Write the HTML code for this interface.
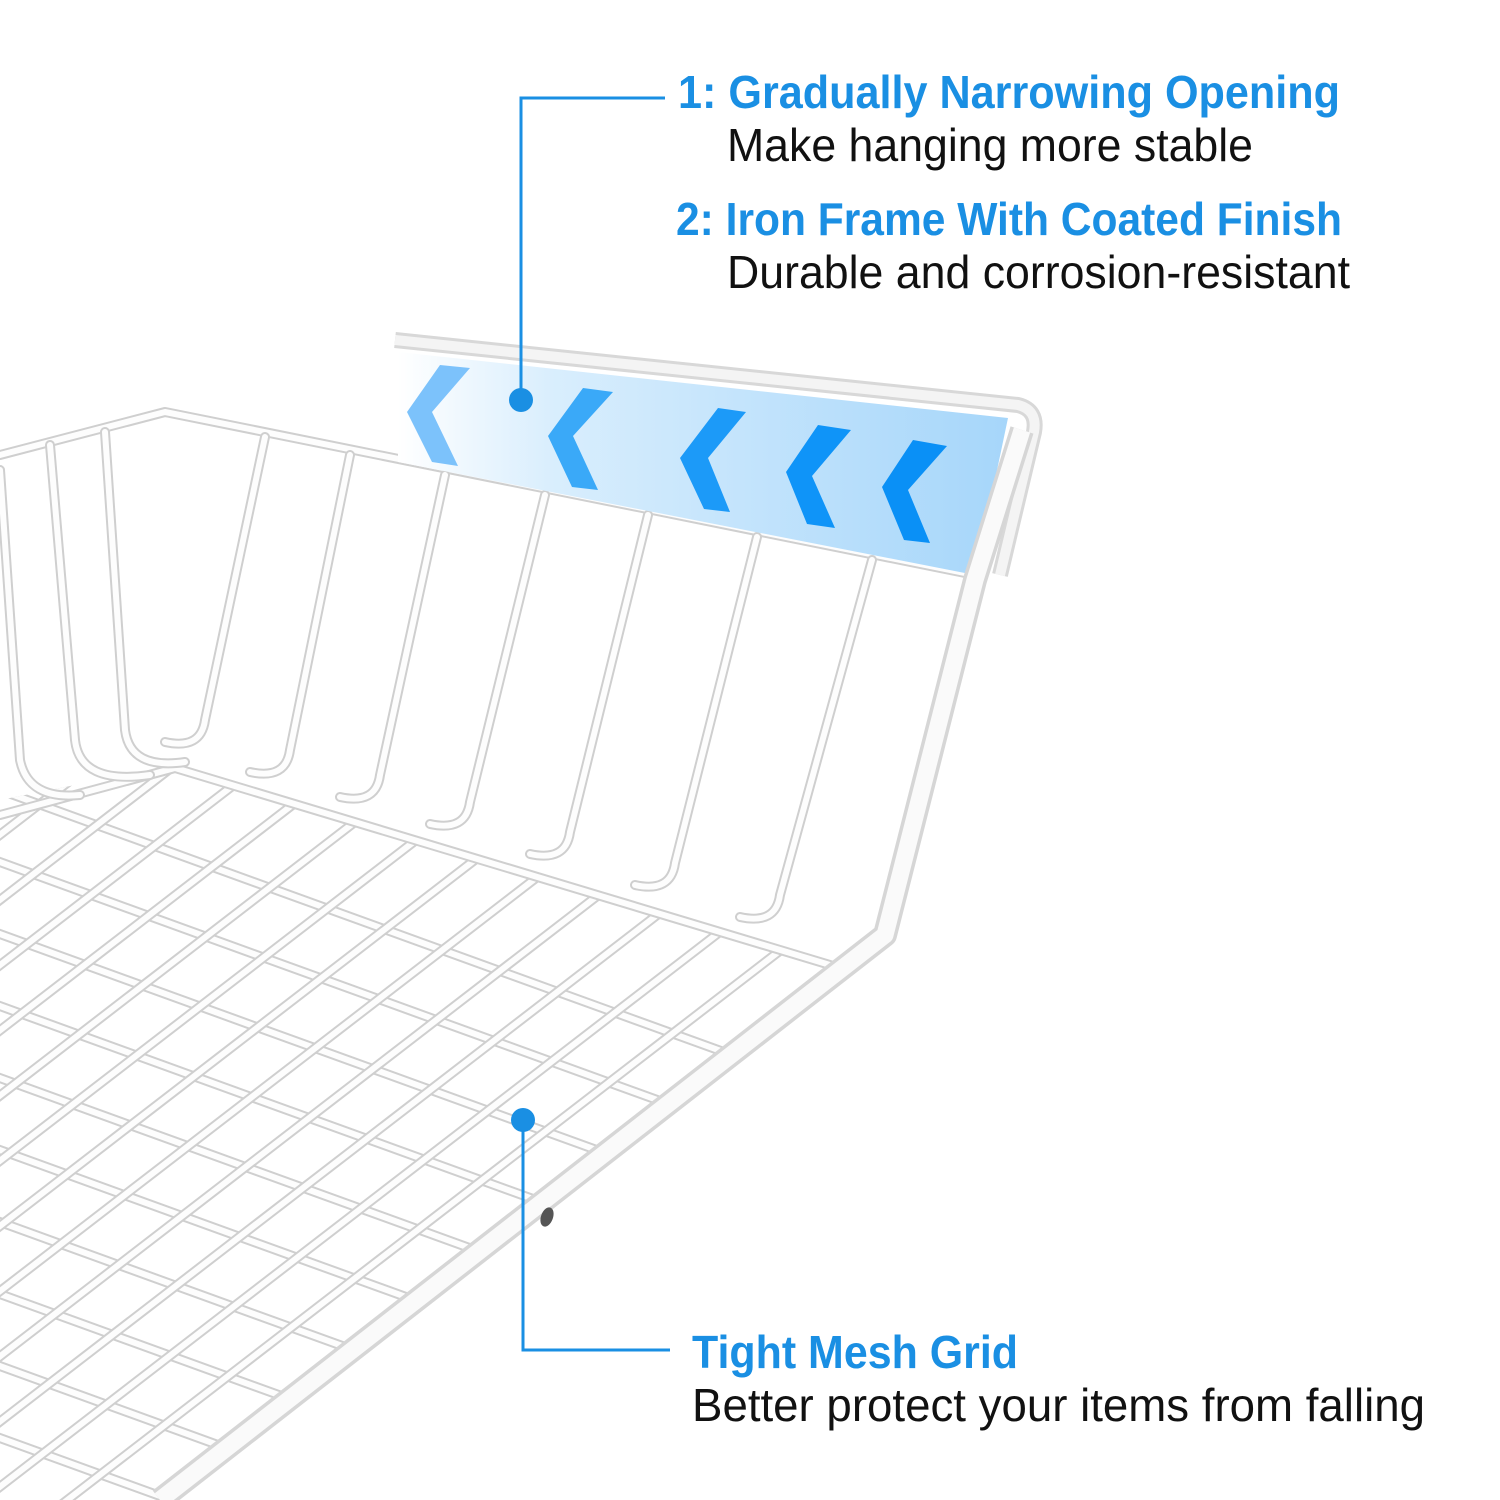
<!DOCTYPE html>
<html><head><meta charset="utf-8"><style>
html,body{margin:0;padding:0;background:#fff;width:1500px;height:1500px;overflow:hidden;}
svg{display:block;}
.t{font-family:"Liberation Sans",sans-serif;font-weight:bold;fill:#1a8fe3;font-size:46px;}
.s{font-family:"Liberation Sans",sans-serif;fill:#111;font-size:46px;}
</style></head><body>
<svg id="sv" width="1500" height="1500" viewBox="0 0 1500 1500" xmlns="http://www.w3.org/2000/svg">
<defs>
<linearGradient id="bg" x1="0" y1="0" x2="1" y2="0">
<stop offset="0" stop-color="#ffffff"/><stop offset="0.25" stop-color="#d9eefd"/><stop offset="1" stop-color="#a6d6fa"/>
</linearGradient>
<clipPath id="floor"><polygon points="0,800 175,765 840,965 880,950 170,1500 0,1500"/></clipPath>
</defs>
<g id="wires" fill="none" stroke-linecap="round" stroke-linejoin="round"></g>
<polygon points="398,352 1008,418 975,575 398,462" fill="url(#bg)"/>
<g>
<polygon points="440,365 470,368 432,412 458,466 432,462 407,412" fill="#7cc2fb"/>
<polygon points="583,388 613,392 573,436 598,490 572,487 548,436" fill="#3aa9f8"/>
<polygon points="718,408 746,412 708,458 730,512 704,509 680,458" fill="#1c9af8"/>
<polygon points="818,425 851,430 812,476 835,528 807,524 786,472" fill="#0f94f8"/>
<polygon points="913,440 947,446 908,490 930,543 904,540 882,487" fill="#0a90f6"/>
</g>
<path d="M395,340 L1018,405 Q1038,410 1034,432 L1000,575" fill="none" stroke="#d8d8d8" stroke-width="16" stroke-linejoin="round"/>
<path d="M395,340 L1018,405 Q1038,410 1034,432 L1000,575" fill="none" stroke="#f4f4f4" stroke-width="10" stroke-linejoin="round"/>
<path d="M1022,430 L975,580 L885,935 L160,1500" fill="none" stroke="#d6d6d6" stroke-width="24" stroke-linejoin="round"/>
<path d="M1022,430 L975,580 L885,935 L160,1500" fill="none" stroke="#fafafa" stroke-width="17" stroke-linejoin="round"/>
<ellipse cx="547" cy="1217" rx="6" ry="10" fill="#555" transform="rotate(20 547 1217)"/>
<g stroke="#1a8fe3" stroke-width="3" fill="none">
<polyline points="665,98 521,98 521,400"/>
<polyline points="523,1120 523,1350 670,1350"/>
</g>
<circle cx="521" cy="400" r="12" fill="#1a8fe3"/>
<circle cx="523" cy="1120" r="12" fill="#1a8fe3"/>
<text class="t" x="678" y="108" textLength="662" lengthAdjust="spacingAndGlyphs">1: Gradually Narrowing Opening</text>
<text class="s" x="727" y="161" textLength="526" lengthAdjust="spacingAndGlyphs">Make hanging more stable</text>
<text class="t" x="676" y="235" textLength="666" lengthAdjust="spacingAndGlyphs">2: Iron Frame With Coated Finish</text>
<text class="s" x="727" y="288" textLength="623" lengthAdjust="spacingAndGlyphs">Durable and corrosion-resistant</text>
<text class="t" x="692" y="1368" textLength="326" lengthAdjust="spacingAndGlyphs">Tight Mesh Grid</text>
<text class="s" x="692" y="1421" textLength="733" lengthAdjust="spacingAndGlyphs">Better protect your items from falling</text>
</svg>
<script>
(function(){
var g=document.getElementById('wires');var NS='http://www.w3.org/2000/svg';
function wire(d,clip){
 var a=document.createElementNS(NS,'path');a.setAttribute('d',d);a.setAttribute('stroke','#cfcfcf');a.setAttribute('stroke-width','10');
 var b=document.createElementNS(NS,'path');b.setAttribute('d',d);b.setAttribute('stroke','#fdfdfd');b.setAttribute('stroke-width','6');
 if(clip){a.setAttribute('clip-path','url(#floor)');b.setAttribute('clip-path','url(#floor)');}
 g.appendChild(a);g.appendChild(b);
}
for(var i=0;i<16;i++){
 var y0=790+i*72;
 wire('M-50,'+(y0-18)+' L1000,'+(y0-18+380),true);
}
for(var j=0;j<13;j++){
 var x0=800-j*82;
 var y0=935-j*2;
 wire('M'+(x0+400)+','+(y0-308)+' L'+(x0-900)+','+(y0+694),true);
}
wire('M0,815 L175,768 L840,968',false);
wire('M0,455 L165,412 L975,575',false);
var tops=[[265,437],[350,455],[445,475],[545,495],[648,515],[757,537],[872,560]];
var bots=[[205,750],[290,780],[380,805],[470,832],[570,862],[675,893],[780,925]];
for(var k=0;k<tops.length;k++){
 var t=tops[k],b=bots[k];
 wire('M'+t[0]+','+t[1]+' L'+b[0]+','+(b[1]-30)+' Q'+(b[0]-4)+','+b[1]+' '+(b[0]-40)+','+(b[1]-8),false);
}
wire('M50,445 L75,740 Q80,785 150,775',false);
wire('M105,432 L125,730 Q130,770 185,762',false);
wire('M0,470 L20,760 Q28,800 80,795',false);
})();
</script>
</body></html>
